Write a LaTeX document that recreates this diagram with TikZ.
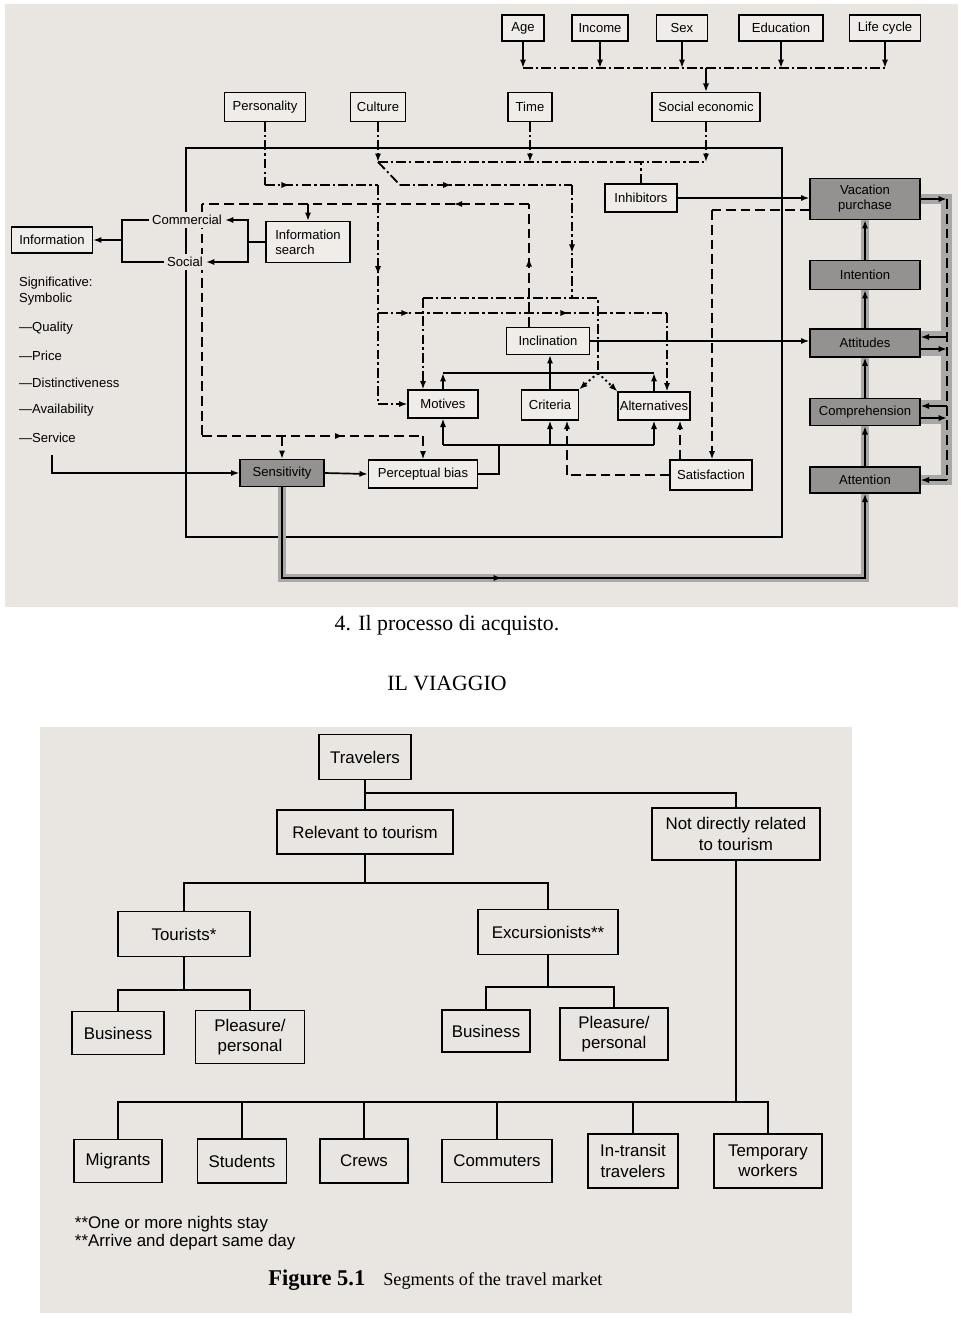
\documentclass[tikz,border=0pt]{standalone}
\usepackage{fontspec}
\setmainfont{Liberation Serif}
\newfontfamily\diagfont{Liberation Sans}
\usetikzlibrary{arrows.meta,decorations.markings,calc}

\definecolor{paper}{RGB}{233,229,224}
\definecolor{boxfill}{RGB}{240,237,233}
\definecolor{boxgray}{RGB}{148,146,144}
\definecolor{halo}{RGB}{170,168,166}

\tikzset{
  >={Latex[length=6pt,width=4.4pt]},
  bx/.style 2 args={draw, line width=0.8pt, fill=boxfill, inner xsep=0.5pt, inner ysep=1pt,
    minimum width=#1*0.25mm, minimum height=#2*0.25mm, align=center,
    font=\diagfont\fontsize{9.3}{10.5}\selectfont},
  gbx/.style 2 args={bx={#1}{#2}, fill=boxgray},
  tbx/.style 2 args={bx={#1}{#2}, fill=paper, line width=1pt,
    font=\diagfont\fontsize{12}{14.5}\selectfont},
  lbl/.style={inner sep=2pt, font=\diagfont\fontsize{9.3}{11}\selectfont},
  sl/.style={line width=1.2pt},
  dd/.style={line width=1.3pt, dash pattern=on 7pt off 2.2pt on 1.6pt off 2.2pt},
  dsh/.style={line width=1.3pt, dash pattern=on 7pt off 3.5pt},
  dots/.style={line width=1.4pt, dash pattern=on 1.4pt off 2.2pt},
  thk/.style={line width=1.5pt, preaction={draw=halo, line width=5pt, arrows=-}},
  tr/.style={line width=1.4pt},
  midarr/.style={postaction={decorate, decoration={markings, mark=at position #1 with {\arrow{>}}}}},
}

\begin{document}
\begin{tikzpicture}[x=0.25mm, y=-0.25mm]
  % page and the two scans
  \fill[white] (0,0) rectangle (960,1320);
  \useasboundingbox (0,0) rectangle (960,1320);
  \fill[paper] (5,4) rectangle (958,607);
  \fill[paper] (40,727) rectangle (852,1313);
  % frame round the middle block
  \draw[line width=0.8pt] (186,148) rectangle (782,537);
  % left leg of the dashed loop (runs under the labels)
  \coordinate (d2) at (202,204); \coordinate (d3) at (202,436);
  \draw[dsh] (d2) -- (d3);
  % gray bands on the right
  \fill[halo] (941,194) rectangle (952,485);
  \fill[halo] (920,194) rectangle (950,204);
  \fill[halo] (920,331) rectangle (950,356);
  \fill[halo] (920,400) rectangle (950,424);
  \fill[halo] (920,475) rectangle (950,485);

  % demographic boxes
  \foreach \n/\x/\w/\t in {age/523/42/Age, income/600/56/Income, sex/682/51/Sex, edu/781/84/Education, life/885/71/Life cycle}
    \node[bx={\w}{26}] (\n) at (\x,28) {\t};
  \foreach \n/\x/\w/\t in {pers/265/81/Personality, cult/378/55/Culture, time/530/44/Time, soc/706/108/Social economic}
    \node[bx={\w}{29}] (\n) at (\x,107) {\t};
  \node[bx={72}{28}] (inhib) at (641,198) {Inhibitors};
  % information side
  \node[bx={81}{26}] (info) at (52,240) {Information};
  \node[bx={84}{41}, align=left] (isearch) at (308,242) {Information\\search};
  \node[lbl, fill=paper] (comm) at (187,220) {Commercial};
  \node[lbl, fill=paper] (social) at (185,262) {Social};
  \node[lbl, anchor=west, align=left] (sig) at (16,291) {Significative:\\Symbolic};
  \foreach \t [count=\i] in {Quality, Price, Distinctiveness, Availability, Service}
    \node[lbl, anchor=west] (q\i) at (16,{301+27.3*\i}) {—\t};
  % middle block
  \node[bx={83}{27}] (incl) at (548,341) {Inclination};
  \node[bx={70}{28}] (mot) at (443,404) {Motives};
  \node[bx={57}{30}] (crit) at (550,405) {Criteria};
  \node[bx={72}{28}] (alt) at (654,406) {Alternatives};
  \node[gbx={84}{27}] (sens) at (282,473) {Sensitivity};
  \node[bx={109}{28}] (pbias) at (423,474) {Perceptual bias};
  \node[bx={82}{30}] (satis) at (711,475) {Satisfaction};
  % response chain
  \node[gbx={110}{41}] (vp) at (865,199) {Vacation\\purchase};
  \node[gbx={110}{29}] (intent) at (865,275) {Intention};
  \node[gbx={110}{28}] (att) at (865,343) {Attitudes};
  \node[gbx={110}{27}] (comp) at (865,412) {Comprehension};
  \node[gbx={110}{26}] (attn) at (865,480) {Attention};

  % demographics -> social economic
  \coordinate (bus) at (706,68);
  \foreach \n in {age,income,sex,edu,life} \draw[sl,->] (\n.south) -- (\n.south |- bus);
  \draw[dd] (age.south |- bus) -- (life.south |- bus);
  \draw[sl,->] (bus) -- (soc.north);
  % culture, time, social economic, inhibitors
  \coordinate (cj) at (378,162);
  \draw[dd,->] (cult.south) -- (cj);
  \draw[dd,->] (time.south) -- (time.south |- cj);
  \draw[dd,->] (soc.south) -- (soc.south |- cj);
  \draw[dd] (cj) -- (soc.south |- cj);
  \draw[dd] (inhib.north) -- (inhib.north |- cj);
  % culture branch to the upper bracket
  \coordinate (cd) at (400,185); \coordinate (ck) at (572,185);
  \coordinate (bl) at (423,298); \coordinate (br) at (598,298); \coordinate (bj) at (598,373);
  \draw[dd] (cj) -- (cd);
  \draw[dd,midarr=0.3] (cd) -- (ck);
  \draw[dd,midarr=0.6] (ck) -- (ck |- br);
  \draw[dd] (bl) -- (br) -- (bj);
  \draw[dd,->] (bl) -- (bl |- mot.north);
  \draw[dots,->] (bj) -- (crit.north east);
  \draw[dots,->] (bj) -- (alt.north west);
  % personality
  \coordinate (pk) at (378,185); \coordinate (pb) at (378,313); \coordinate (pe) at (667,313);
  \draw[dd] (pers.south) -- (pers.south |- pk);
  \draw[dd,midarr=0.22] (pers.south |- pk) -- (pk);
  \draw[dd,midarr=0.7] (pk) -- (pb);
  \draw[dd] (pb) -- (pb |- mot.west);
  \draw[dd,->] (pb |- mot.west) -- (mot.west);
  \draw[dd,midarr=0.11,midarr=0.66] (pb) -- (pe);
  \draw[dd,->] (pe) -- (pe |- alt.north);
  % dashed loop from inclination
  \coordinate (d1) at (529,204); \coordinate (d4) at (423,436);
  \draw[dsh,midarr=0.56] (d1 |- incl.north) -- (d1);
  \draw[dsh,midarr=0.23] (d1) -- (d2);
  \draw[dsh,midarr=0.64] (d3) -- (d4);
  \draw[dsh,->] (d4) -- (pbias.north);
  \draw[dsh,->] (isearch.north |- d2) -- (isearch.north);
  \draw[dsh,->] (sens.north |- d3) -- (sens.north);
  % information search
  \coordinate (sb) at (248,242); \coordinate (ib) at (122,240);
  \draw[sl] (isearch.west) -- (sb);
  \draw[sl,->] (sb) |- (comm.east);
  \draw[sl,->] (sb) |- (social.east);
  \draw[sl] (comm.west) -| (ib);
  \draw[sl] (social.west) -| (ib);
  \draw[sl,->] (ib) -- (info.east);
  % service -> sensitivity -> perceptual bias
  \coordinate (sv) at (52,455);
  \draw[sl,->] (sv) |- (sens.west);
  \draw[sl,->] (sens.east) -- (pbias.west);
  \coordinate (pj) at (499,445);
  \draw[sl] (pbias.east) -| (pj);
  \draw[sl] (mot.south |- pj) -- (alt.south |- pj);
  \foreach \n in {mot,crit,alt} \draw[sl,->] (\n.south |- pj) -- (\n.south);
  % upper solid bracket
  \coordinate (uj) at (549,373);
  \draw[sl] (mot.north |- uj) -- (alt.north |- uj);
  \draw[sl,->] (mot.north) -- (mot.north |- uj);
  \draw[sl,->] (alt.north) -- (alt.north |- uj);
  \draw[sl,->] (crit.north) -- (crit.north |- incl.south);
  % satisfaction
  \coordinate (s1) at (567,475); \coordinate (s2) at (680,460); \coordinate (vd) at (712,210);
  \draw[dsh] (satis.west) -- (s1);
  \draw[dsh,->] (s1) -- (s1 |- crit.south);
  \draw[dsh,->] (s2 |- satis.north) -- (s2 |- alt.south);
  \draw[dsh] (vp.west |- vd) -- (vd);
  \draw[dsh,->] (vd) -- (vd |- satis.north);
  % to the right column
  \draw[sl,->] (incl.east) -- (incl.east -| att.west);
  \draw[sl,->] (inhib.east) -- (inhib.east -| vp.west);
  \draw[thk,->] (attn.north) -- (comp.south);
  \draw[thk,->] (comp.north) -- (att.south);
  \draw[thk,->] (att.north) -- (intent.south);
  \draw[thk,->] (intent.north) -- (vp.south);
  \coordinate (gb) at (282,578);
  \draw[thk,->,midarr=0.41] (sens.south) |- (attn.south |- gb) -- (attn.south);
  % feedback on the right
  \coordinate (fb) at (947,199);
  \draw[dsh] (fb) -- (fb |- attn.east);
  \draw[sl,->] (vp.east) -- (fb);
  \draw[sl,->] (fb |- attn.east) -- (attn.east);
  \foreach \n in {att,comp} {
    \draw[sl,->] ($(\n.east -| fb)+(0,-6)$) -- ($(\n.east)+(0,-6)$);
    \draw[sl,->] ($(\n.east)+(0,6)$) -- ($(\n.east -| fb)+(0,6)$);
  }

  % captions
  \node[font=\fontsize{15.5}{18}\selectfont] (cap4) at (447,625) {4. Il processo di acquisto.};
  \node[font=\fontsize{15.5}{18}\selectfont] (viaggio) at (447,683) {IL VIAGGIO};

  % travel market tree
  \node[tbx={92}{45}] (trav) at (365,757) {Travelers};
  \node[tbx={176}{44}] (rel) at (365,832) {Relevant to tourism};
  \node[tbx={168}{52}] (notrel) at (736,834) {Not directly related\\to tourism};
  \node[tbx={132}{45}] (tour) at (184,934) {Tourists*};
  \node[tbx={140}{45}] (exc) at (548,932) {Excursionists**};
  \node[tbx={92}{43}] (tbus) at (118,1033) {Business};
  \node[tbx={109}{53}] (tpl) at (250,1037) {Pleasure/\\personal};
  \node[tbx={88}{42}] (ebus) at (486,1031) {Business};
  \node[tbx={108}{52}] (epl) at (614,1034) {Pleasure/\\personal};
  \foreach \n/\x/\w/\h/\t in {mig/118/88/43/Migrants, stu/242/89/44/Students, crew/364/88/44/Crews,
      commu/497/110/43/Commuters, intr/633/90/54/{In-transit\\travelers}, temp/768/108/54/{Temporary\\workers}}
    \node[tbx={\w}{\h}] (\n) at (\x,1161) {\t};

  \coordinate (j1) at (365,793);
  \draw[tr] (trav.south) -- (rel.north);
  \draw[tr] (j1) -| (notrel.north);
  \coordinate (j2) at (365,883);
  \draw[tr] (rel.south) -- (j2);
  \draw[tr] (tour.north) |- (exc.north |- j2) -- (exc.north);
  \coordinate (j3) at (184,990);
  \draw[tr] (tour.south) -- (j3);
  \draw[tr] (tbus.north) |- (tpl.north |- j3) -- (tpl.north);
  \coordinate (j4) at (548,987);
  \draw[tr] (exc.south) -- (j4);
  \draw[tr] (ebus.north) |- (epl.north |- j4) -- (epl.north);
  \coordinate (j5) at (736,1102);
  \draw[tr] (notrel.south) -- (j5);
  \draw[tr] (mig.north) |- (temp.north |- j5) -- (temp.north);
  \foreach \n in {stu,crew,commu,intr} \draw[tr] (\n.north |- j5) -- (\n.north);

  % notes and figure caption
  \node[anchor=west, font=\diagfont\fontsize{12}{14}\selectfont] (fn1) at (70,1224) {**One or more nights stay};
  \node[anchor=west, font=\diagfont\fontsize{12}{14}\selectfont] (fn2) at (70,1242) {**Arrive and depart same day};
  \node[anchor=base west, inner sep=0pt, font=\bfseries\fontsize{16}{18}\selectfont] (figno) at (268,1285) {Figure 5.1};
  \node[anchor=base west, inner sep=0pt, font=\fontsize{13}{15}\selectfont] (figcap) at (383,1285) {Segments of the travel market};
\end{tikzpicture}
\end{document}
